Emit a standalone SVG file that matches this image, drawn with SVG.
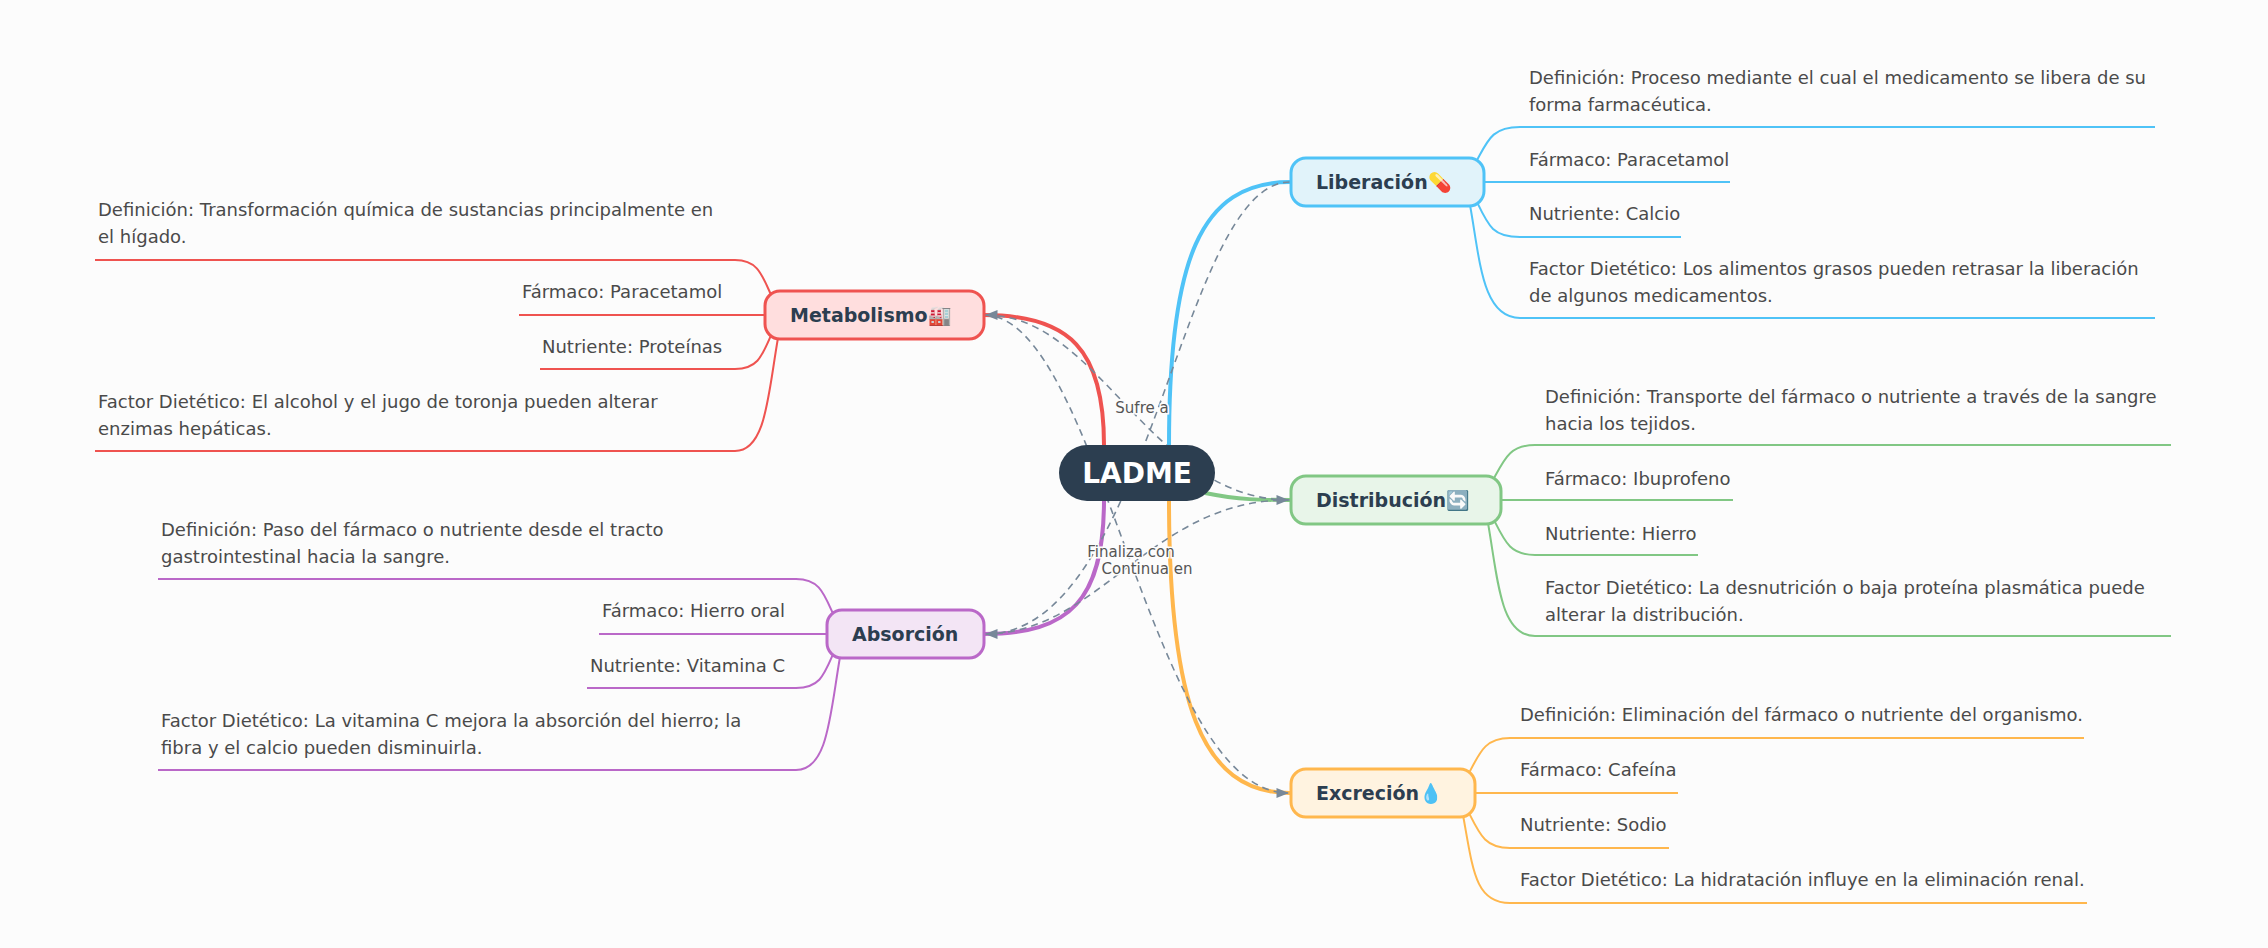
<svg xmlns="http://www.w3.org/2000/svg" width="2268" height="948" viewBox="0 0 2268 948">
<style>
.t{font-family:"DejaVu Sans","Noto Sans",sans-serif;font-size:18px;fill:#4a4a4a}
.n{font-family:"DejaVu Sans","Noto Sans",sans-serif;font-size:19px;font-weight:bold;fill:#2c3e50}
.l{font-family:"DejaVu Sans","Noto Sans",sans-serif;font-size:15px;fill:#555;stroke:#fcfcfc;stroke-width:3px;paint-order:stroke}
.c{fill:none;stroke-width:2}
.m{fill:none;stroke-width:4}
.d{fill:none;stroke:#778899;stroke-width:1.6;stroke-dasharray:7 5;marker-end:url(#a)}
</style>
<defs><marker id="a" viewBox="0 0 10 10" refX="9" refY="5" markerWidth="8" markerHeight="8" orient="auto"><path d="M0,1 L10,5 L0,9 z" fill="#778899"/></marker></defs>
<rect width="2268" height="948" fill="#fcfcfc"/>
<g id="connectors">
<path class="m" stroke="#4fc3f7" d="M1169,445 C1169,260 1200,182 1290,182"/>
<path class="m" stroke="#81c784" d="M1205,493 C1240,500 1260,500 1290,500"/>
<path class="m" stroke="#ffb74d" d="M1169,500 C1169,700 1200,793 1290,793"/>
<path class="m" stroke="#ef5350" d="M1104,445 C1104,350 1070,315 984,315"/>
<path class="m" stroke="#ba68c8" d="M1104,500 C1104,600 1070,634 984,634"/>
<path class="c" stroke="#4fc3f7" d="M1476,162 C1488,140 1492,127 1520,127 L2155,127"/>
<path class="c" stroke="#4fc3f7" d="M1484,182 L1730,182"/>
<path class="c" stroke="#4fc3f7" d="M1476,200 C1488,225 1492,237 1520,237 L1681,237"/>
<path class="c" stroke="#4fc3f7" d="M1470,205 C1480,260 1482,318 1520,318 L2155,318"/>
<path class="c" stroke="#81c784" d="M1493,480 C1505,458 1510,445 1535,445 L2171,445"/>
<path class="c" stroke="#81c784" d="M1501,500 L1733,500"/>
<path class="c" stroke="#81c784" d="M1493,518 C1505,542 1510,555 1535,555 L1698,555"/>
<path class="c" stroke="#81c784" d="M1488,523 C1498,580 1500,636 1535,636 L2171,636"/>
<path class="c" stroke="#ffb74d" d="M1468,775 C1480,752 1485,738 1510,738 L2084,738"/>
<path class="c" stroke="#ffb74d" d="M1475,793 L1678,793"/>
<path class="c" stroke="#ffb74d" d="M1468,811 C1480,835 1485,848 1510,848 L1669,848"/>
<path class="c" stroke="#ffb74d" d="M1463,815 C1473,870 1475,903 1510,903 L2087,903"/>
<path class="c" stroke="#ef5350" d="M772,297 C762,275 758,260 735,260 L95,260"/>
<path class="c" stroke="#ef5350" d="M765,315 L519,315"/>
<path class="c" stroke="#ef5350" d="M772,333 C762,356 758,369 735,369 L540,369"/>
<path class="c" stroke="#ef5350" d="M778,338 C768,395 766,451 735,451 L95,451"/>
<path class="c" stroke="#ba68c8" d="M834,616 C824,594 820,579 796,579 L158,579"/>
<path class="c" stroke="#ba68c8" d="M827,634 L599,634"/>
<path class="c" stroke="#ba68c8" d="M834,652 C824,675 820,688 796,688 L587,688"/>
<path class="c" stroke="#ba68c8" d="M840,657 C830,715 828,770 796,770 L158,770"/>
<path class="d" d="M1290,182 C1180,182 1150,634 986,634"/>
<path class="d" d="M984,634 C1100,634 1150,500 1288,500"/>
<path class="d" d="M1290,500 C1150,500 1100,315 986,315"/>
<path class="d" d="M984,315 C1100,315 1150,793 1288,793"/>
<text class="l" x="1142" y="413" text-anchor="middle">Sufre a</text>
<text class="l" x="1131" y="557" text-anchor="middle">Finaliza con</text>
<text class="l" x="1147" y="574" text-anchor="middle">Continua en</text>
</g>
<g id="ladme"><rect x="1059" y="445" width="156" height="56" rx="28" fill="#2c3e50"/><text x="1137" y="483" text-anchor="middle" font-family="DejaVu Sans,sans-serif" font-size="28" font-weight="bold" fill="#fff">LADME</text></g>
<g id="liberacion"><rect x="1291" y="158" width="193" height="48" rx="15" fill="#e1f3fa" stroke="#4fc3f7" stroke-width="3"/><text class="n" x="1316" y="189">Liberación💊</text>
<text class="t" x="1529" y="84">Definición: Proceso mediante el cual el medicamento se libera de su</text><text class="t" x="1529" y="111">forma farmacéutica.</text>
<text class="t" x="1529" y="166">Fármaco: Paracetamol</text><text class="t" x="1529" y="220">Nutriente: Calcio</text>
<text class="t" x="1529" y="275">Factor Dietético: Los alimentos grasos pueden retrasar la liberación</text><text class="t" x="1529" y="302">de algunos medicamentos.</text></g>
<g id="distribucion"><rect x="1291" y="476" width="210" height="48" rx="15" fill="#e8f5e9" stroke="#81c784" stroke-width="3"/><text class="n" x="1316" y="507">Distribución🔄</text>
<text class="t" x="1545" y="403">Definición: Transporte del fármaco o nutriente a través de la sangre</text><text class="t" x="1545" y="430">hacia los tejidos.</text>
<text class="t" x="1545" y="485">Fármaco: Ibuprofeno</text><text class="t" x="1545" y="540">Nutriente: Hierro</text>
<text class="t" x="1545" y="594">Factor Dietético: La desnutrición o baja proteína plasmática puede</text><text class="t" x="1545" y="621">alterar la distribución.</text></g>
<g id="excrecion"><rect x="1291" y="769" width="184" height="48" rx="15" fill="#fff3e0" stroke="#ffb74d" stroke-width="3"/><text class="n" x="1316" y="800">Excreción💧</text>
<text class="t" x="1520" y="721">Definición: Eliminación del fármaco o nutriente del organismo.</text>
<text class="t" x="1520" y="776">Fármaco: Cafeína</text><text class="t" x="1520" y="831">Nutriente: Sodio</text>
<text class="t" x="1520" y="886">Factor Dietético: La hidratación influye en la eliminación renal.</text></g>
<g id="metabolismo"><rect x="765" y="291" width="219" height="48" rx="15" fill="#ffdede" stroke="#ef5350" stroke-width="3"/><text class="n" x="790" y="322">Metabolismo🏭</text>
<text class="t" x="98" y="216">Definición: Transformación química de sustancias principalmente en</text><text class="t" x="98" y="243">el hígado.</text>
<text class="t" x="522" y="298">Fármaco: Paracetamol</text><text class="t" x="542" y="353">Nutriente: Proteínas</text>
<text class="t" x="98" y="408">Factor Dietético: El alcohol y el jugo de toronja pueden alterar</text><text class="t" x="98" y="435">enzimas hepáticas.</text></g>
<g id="absorcion"><rect x="827" y="610" width="157" height="48" rx="15" fill="#f3e5f5" stroke="#ba68c8" stroke-width="3"/><text class="n" x="852" y="641">Absorción</text>
<text class="t" x="161" y="536">Definición: Paso del fármaco o nutriente desde el tracto</text><text class="t" x="161" y="563">gastrointestinal hacia la sangre.</text>
<text class="t" x="602" y="617">Fármaco: Hierro oral</text><text class="t" x="590" y="672">Nutriente: Vitamina C</text>
<text class="t" x="161" y="727">Factor Dietético: La vitamina C mejora la absorción del hierro; la</text><text class="t" x="161" y="754">fibra y el calcio pueden disminuirla.</text></g>
</svg>
